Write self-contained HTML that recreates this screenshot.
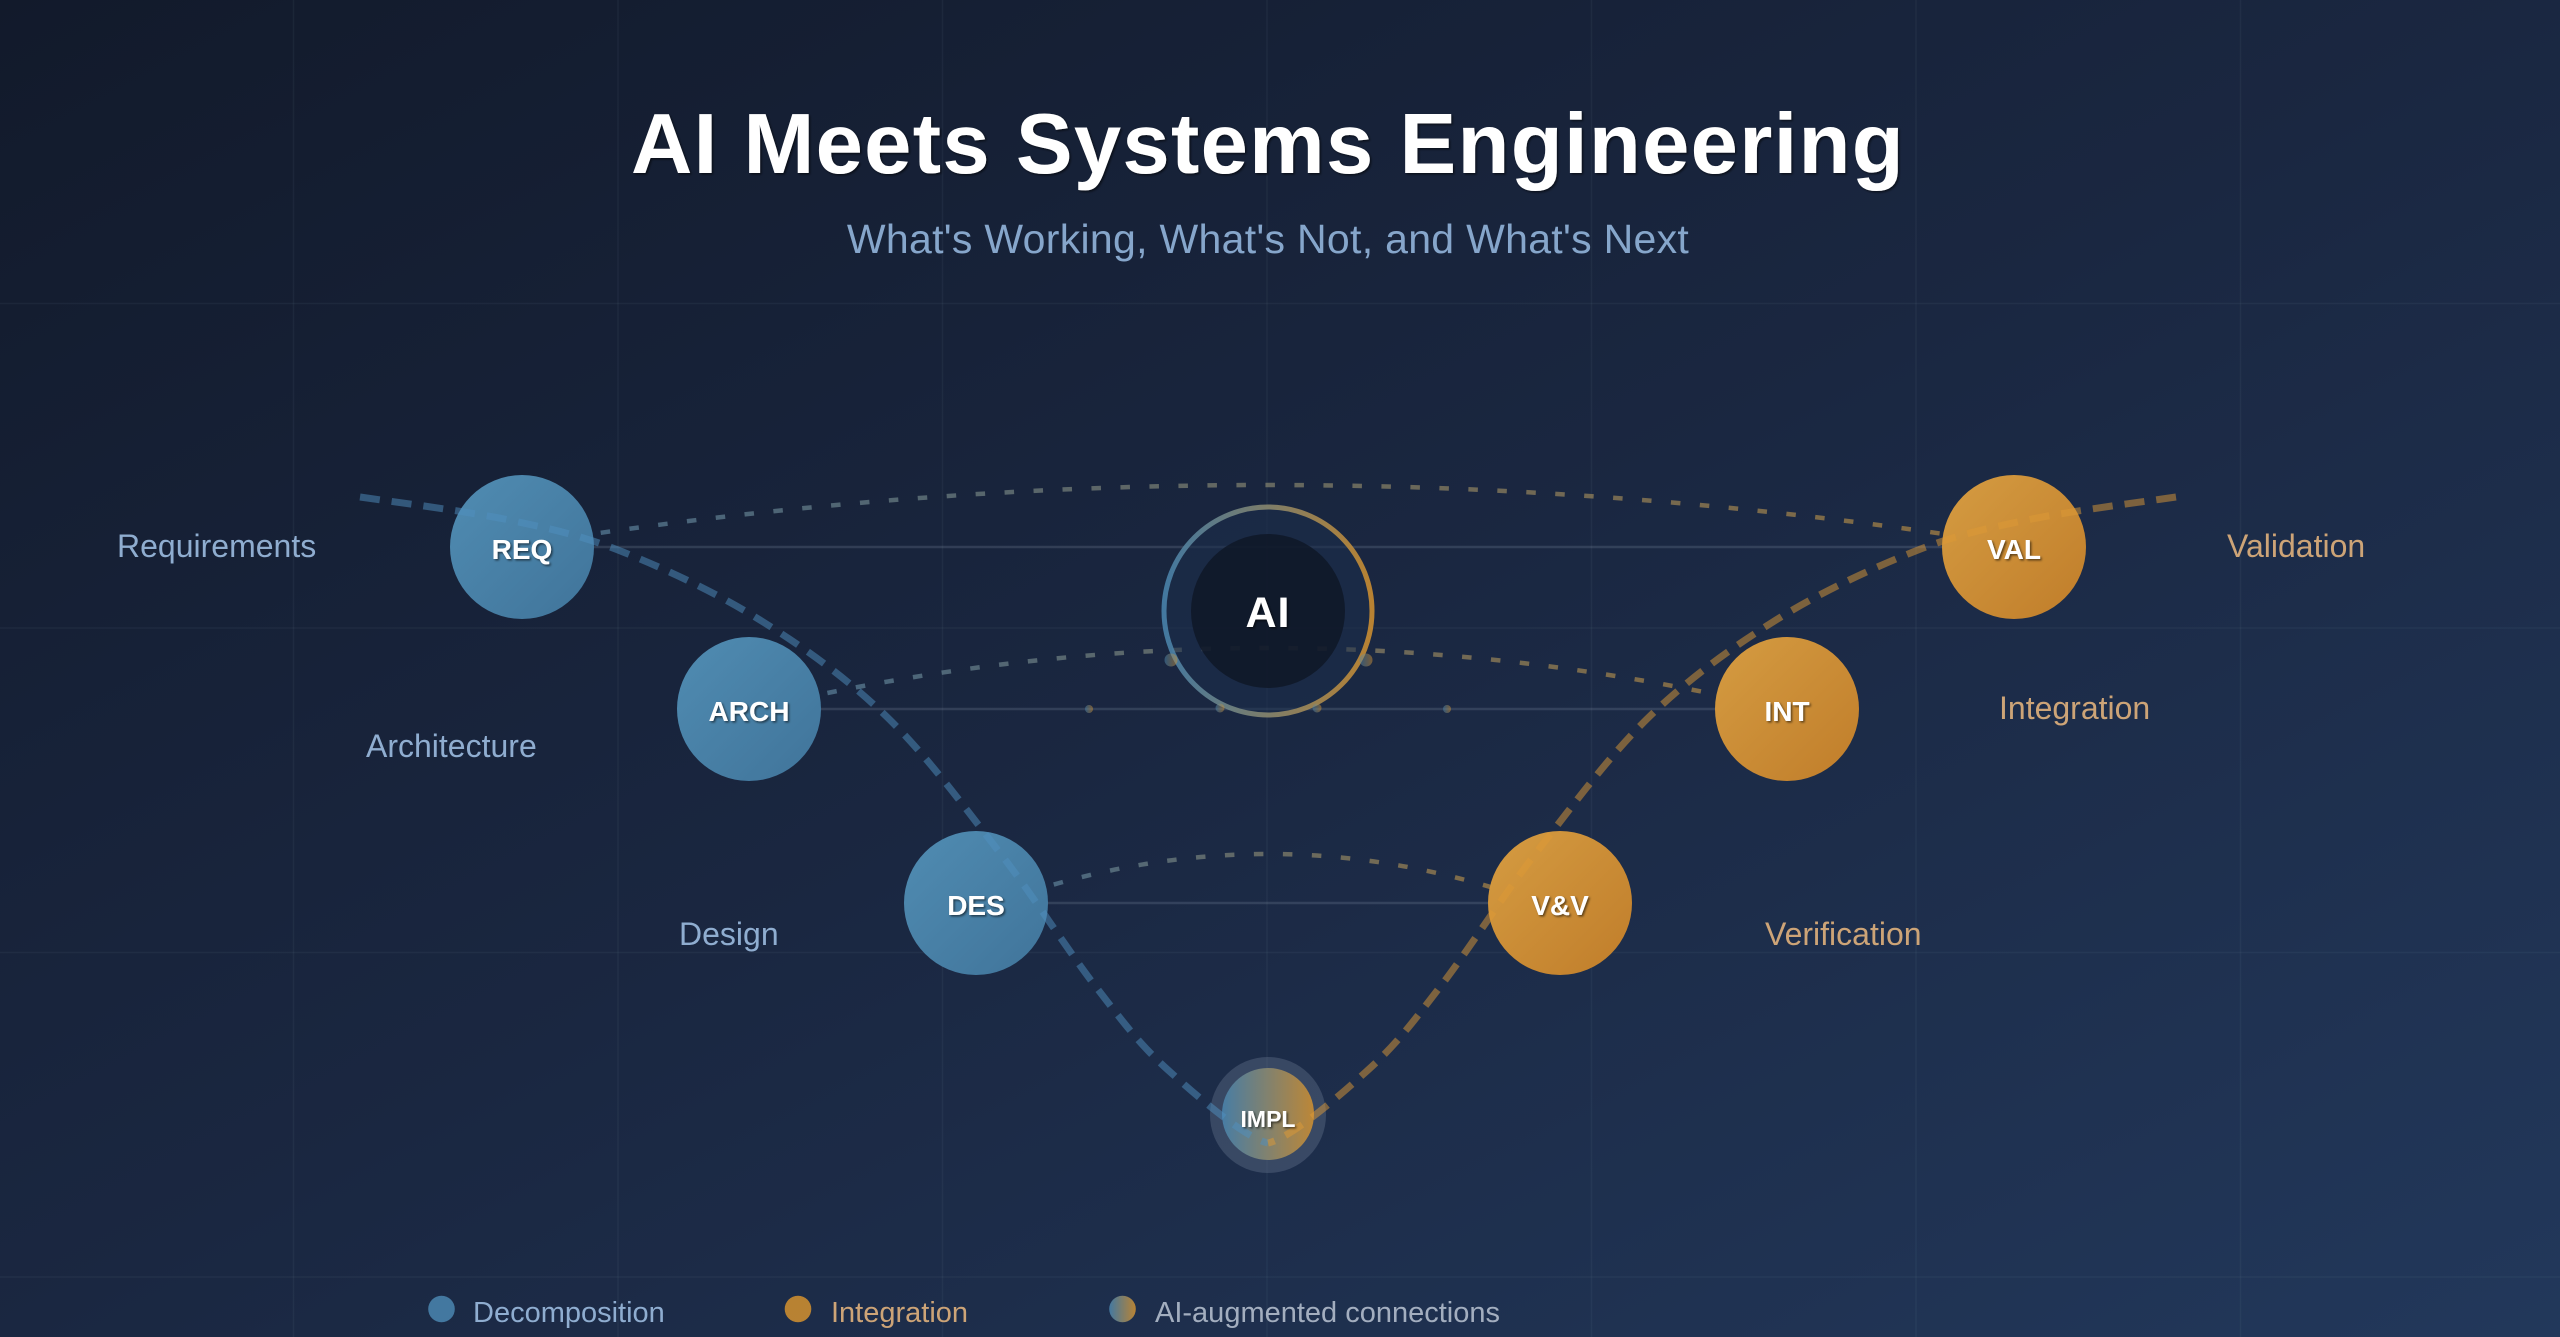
<!DOCTYPE html>
<html><head><meta charset="utf-8"><style>
html,body{margin:0;padding:0;width:2560px;height:1337px;overflow:hidden;background:#18233a;}
svg{display:block;}
text{font-family:"Liberation Sans",Arial,sans-serif;}
</style></head><body>
<svg width="2560" height="1337" viewBox="0 0 2560 1337" xmlns="http://www.w3.org/2000/svg">
<defs>
  <linearGradient id="bg" x1="0" y1="0" x2="1" y2="1">
    <stop offset="0" stop-color="#121a2b"/>
    <stop offset="0.5" stop-color="#1a2741"/>
    <stop offset="1" stop-color="#22385b"/>
  </linearGradient>
  <linearGradient id="blueN" x1="0" y1="0" x2="1" y2="1">
    <stop offset="0" stop-color="#508cb2"/>
    <stop offset="1" stop-color="#40749a"/>
  </linearGradient>
  <linearGradient id="orN" x1="0" y1="0" x2="1" y2="1">
    <stop offset="0" stop-color="#d59c42"/>
    <stop offset="1" stop-color="#c07d2a"/>
  </linearGradient>
  <linearGradient id="mix" x1="0" y1="0" x2="1" y2="0">
    <stop offset="0" stop-color="#4a86b0"/>
    <stop offset="1" stop-color="#d4922f"/>
  </linearGradient>
  <linearGradient id="arcG" x1="0" y1="0" x2="1" y2="0">
    <stop offset="0" stop-color="#6a9ab8"/>
    <stop offset="1" stop-color="#d9a040"/>
  </linearGradient>
  <filter id="ts" x="-20%" y="-20%" width="140%" height="140%">
    <feDropShadow dx="1.5" dy="1.5" stdDeviation="1" flood-color="#000" flood-opacity="0.55"/>
  </filter>
</defs>

<rect x="0" y="0" width="2560" height="1337" fill="url(#bg)"/>

<!-- grid -->
<g stroke="#94a3b8" stroke-opacity="0.07" stroke-width="1.5">
  <line x1="293.5" y1="0" x2="293.5" y2="1337"/>
  <line x1="618" y1="0" x2="618" y2="1337"/>
  <line x1="942.5" y1="0" x2="942.5" y2="1337"/>
  <line x1="1267" y1="0" x2="1267" y2="1337"/>
  <line x1="1591.5" y1="0" x2="1591.5" y2="1337"/>
  <line x1="1916" y1="0" x2="1916" y2="1337"/>
  <line x1="2240.5" y1="0" x2="2240.5" y2="1337"/>
  <line x1="0" y1="303.5" x2="2560" y2="303.5"/>
  <line x1="0" y1="628" x2="2560" y2="628"/>
  <line x1="0" y1="952.5" x2="2560" y2="952.5"/>
  <line x1="0" y1="1277" x2="2560" y2="1277"/>
</g>

<!-- title -->
<text x="1268" y="173" text-anchor="middle" font-size="85" font-weight="bold" fill="#ffffff" letter-spacing="1.3" filter="url(#ts)">AI Meets Systems Engineering</text>
<text x="1268" y="253" text-anchor="middle" font-size="41" fill="#86a6cb" letter-spacing="0.3">What's Working, What's Not, and What's Next</text>

<!-- horizontal connectors -->
<g stroke="#94a3b8" stroke-opacity="0.2" stroke-width="2.5">
  <line x1="522" y1="547" x2="2014" y2="547"/>
  <line x1="749" y1="709" x2="1787" y2="709"/>
  <line x1="976" y1="903" x2="1560" y2="903"/>
</g>

<!-- dotted AI arcs -->
<g fill="none" stroke="url(#arcG)" stroke-opacity="0.55" stroke-width="4.5" stroke-dasharray="9.5 19.5">
  <path d="M572,537 Q1268,433 1964,537"/>
  <path d="M799,699 Q1268,597 1737,699"/>
  <path d="M1026,893 Q1268,815 1510,893"/>
</g>

<!-- AI core -->
<circle cx="1268" cy="611" r="104" fill="#1c2d4a" fill-opacity="0.55" stroke="url(#mix)" stroke-width="5" stroke-opacity="0.85"/>
<circle cx="1268" cy="611" r="77" fill="#0f1727" fill-opacity="0.85"/>
<text x="1268" y="627" text-anchor="middle" font-size="43" font-weight="bold" fill="#ffffff" letter-spacing="1" filter="url(#ts)">AI</text>

<!-- particles -->
<g fill="url(#mix)" fill-opacity="0.5">
  <circle cx="1171" cy="660" r="6.5"/>
  <circle cx="1366" cy="660" r="6.5"/>
  <circle cx="1220" cy="708" r="4.5"/>
  <circle cx="1317" cy="708" r="4.5"/>
  <circle cx="1089" cy="709" r="4"/>
  <circle cx="1447" cy="709" r="4"/>
</g>

<!-- nodes -->
<circle cx="522" cy="547" r="72" fill="url(#blueN)"/>
<circle cx="749" cy="709" r="72" fill="url(#blueN)"/>
<circle cx="976" cy="903" r="72" fill="url(#blueN)"/>
<circle cx="1560" cy="903" r="72" fill="url(#orN)"/>
<circle cx="1787" cy="709" r="72" fill="url(#orN)"/>
<circle cx="2014" cy="547" r="72" fill="url(#orN)"/>

<circle cx="1268" cy="1115" r="58" fill="#64748b" fill-opacity="0.4"/>
<circle cx="1268" cy="1114" r="46" fill="url(#mix)" fill-opacity="0.85"/>

<!-- V dashed paths -->
<path d="M360,497 C384.8,500.8 465.2,510.8 509,520 C552.8,529.2 581.2,535.3 623,552 C664.8,568.7 716,592.5 760,620 C804,647.5 847,678.2 887,717 C927,755.8 965.2,808 1000,853 C1034.8,898 1068,950.8 1096,987 C1124,1023.2 1139.3,1044 1168,1070 C1196.7,1096 1245,1138 1268,1143" fill="none" stroke="#5090c0" stroke-opacity="0.5" stroke-width="7" stroke-dasharray="20 12"/>
<path transform="matrix(-1,0,0,1,2536,0)" d="M360,497 C384.8,500.8 465.2,510.8 509,520 C552.8,529.2 581.2,535.3 623,552 C664.8,568.7 716,592.5 760,620 C804,647.5 847,678.2 887,717 C927,755.8 965.2,808 1000,853 C1034.8,898 1068,950.8 1096,987 C1124,1023.2 1139.3,1044 1168,1070 C1196.7,1096 1245,1138 1268,1143" fill="none" stroke="#dd9a35" stroke-opacity="0.5" stroke-width="7" stroke-dasharray="20 12"/>

<!-- node labels -->
<g font-weight="bold" fill="#ffffff" text-anchor="middle" font-size="28" filter="url(#ts)">
  <text x="522" y="559">REQ</text>
  <text x="749" y="721">ARCH</text>
  <text x="976" y="915">DES</text>
  <text x="1560" y="915">V&amp;V</text>
  <text x="1787" y="721">INT</text>
  <text x="2014" y="559">VAL</text>
  <text x="1268" y="1127" font-size="23">IMPL</text>
</g>

<!-- side labels -->
<g font-size="32" fill="#8fadd0">
  <text x="117" y="557">Requirements</text>
  <text x="366" y="757">Architecture</text>
  <text x="679" y="945">Design</text>
</g>
<g font-size="32" fill="#cda477">
  <text x="2227" y="557">Validation</text>
  <text x="1999" y="719">Integration</text>
  <text x="1765" y="945">Verification</text>
</g>

<!-- legend -->
<circle cx="441.5" cy="1309" r="13.3" fill="#4a86b0" fill-opacity="0.85"/>
<text x="473" y="1322" font-size="29" fill="#8fadd0">Decomposition</text>
<circle cx="798" cy="1309" r="13.3" fill="#d4922f" fill-opacity="0.85"/>
<text x="831" y="1322" font-size="29" fill="#cda477">Integration</text>
<circle cx="1122.5" cy="1309" r="13.3" fill="url(#mix)" fill-opacity="0.85"/>
<text x="1155" y="1322" font-size="29" fill="#a3aebf">AI-augmented connections</text>
</svg>
</body></html>
